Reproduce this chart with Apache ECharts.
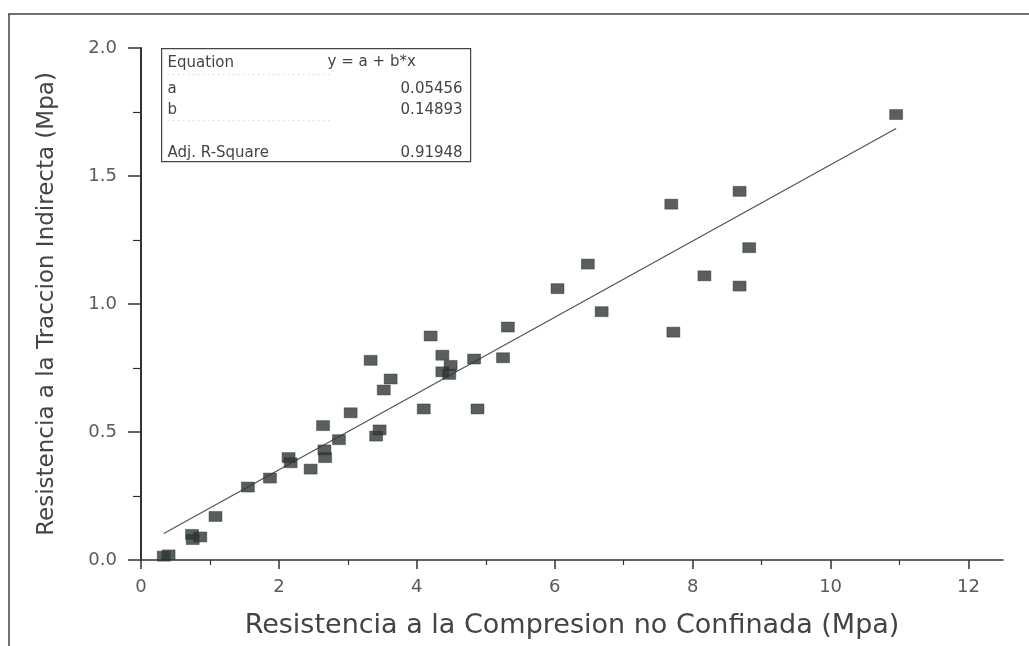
<!DOCTYPE html>
<html><head><meta charset="utf-8">
<script src="https://cdn.jsdelivr.net/npm/echarts@6/dist/echarts.min.js"></script>
<style>html,body{margin:0;padding:0;background:#fff}#c{width:1029px;height:646px}</style>
</head><body><div id="c"></div>
<script>
const xValues = [0.33, 0.40, 0.74, 0.75, 0.86, 1.08, 1.55, 1.87, 2.14, 2.17, 2.46, 2.64, 2.66, 2.67, 2.87, 3.04, 3.33, 3.41, 3.46, 3.52, 3.62, 4.10, 4.20, 4.37, 4.49, 4.37, 4.47, 4.83, 4.88, 5.25, 5.32, 6.04, 6.48, 6.68, 7.69, 7.72, 8.17, 8.68, 8.68, 8.82, 10.95];
const yValues = [0.015, 0.02, 0.10, 0.08, 0.09, 0.17, 0.285, 0.32, 0.40, 0.38, 0.355, 0.525, 0.43, 0.40, 0.47, 0.575, 0.78, 0.484, 0.508, 0.664, 0.707, 0.59, 0.875, 0.80, 0.76, 0.735, 0.725, 0.785, 0.59, 0.79, 0.91, 1.06, 1.156, 0.97, 1.39, 0.89, 1.11, 1.44, 1.07, 1.22, 1.74];
// Fit table
const tableLabels = ['a', 'b', 'Adj. R-Square'];
const tableValues = ['0.05456', '0.14893', '0.91948'];
const fitA = 0.05456, fitB = 0.14893;
const fitXRange = [0.33, 10.95];
// Ticks
const xMajorTicks = [0, 2, 4, 6, 8, 10, 12];
const xMinorTicks = [1, 3, 5, 7, 9, 11];
// Axis text
const xTitle = 'Resistencia a la Compresion no Confinada (Mpa)';
const yTitle = 'Resistencia a la Traccion Indirecta (Mpa)';

const scatterData = xValues.map((x, i) => [x, yValues[i]]);
const fitData = fitXRange.map(x => [x, fitA + fitB * x]);

const chart = echarts.init(document.getElementById('c'), null, {renderer: 'canvas'});
const axisColor = '#333';
const labelColor = '#5a5a5a';
const fontFam = 'DejaVu Sans';
const tf = '15px "DejaVu Sans"';

chart.setOption({
  backgroundColor: '#fff',
  animation: false,
  grid: {left: 141, right: 26, top: 48, bottom: 86, containLabel: false},
  xAxis: [{
    type: 'value', min: 0, max: 12.5, position: 'bottom',
    name: xTitle, nameLocation: 'middle', nameGap: 52,
    nameTextStyle: {fontFamily: fontFam, fontSize: 27, color: '#444'},
    axisLine: {show: true, lineStyle: {color: axisColor, width: 1.5}},
    axisTick: {show: true, inside: false, length: 9, customValues: xMajorTicks, lineStyle: {color: axisColor, width: 1.5}},
    minorTick: {show: false},
    axisLabel: {margin: 18, fontFamily: fontFam, fontSize: 18, color: labelColor, customValues: xMajorTicks,
      formatter: v => String(v)},
    splitLine: {show: false}
  }, {
    type: 'value', min: 0, max: 12.5, position: 'bottom', offset: 0,
    axisLine: {show: false},
    axisTick: {show: true, inside: false, length: 5, customValues: xMinorTicks, lineStyle: {color: axisColor, width: 1.2}},
    axisLabel: {show: false},
    splitLine: {show: false}
  }],
  yAxis: {
    type: 'value', min: 0, max: 2, interval: 0.5,
    name: yTitle, nameLocation: 'middle', nameGap: 82,
    nameTextStyle: {fontFamily: fontFam, fontSize: 23, color: '#444'},
    axisLine: {show: true, onZero: false, lineStyle: {color: axisColor, width: 2}},
    axisTick: {show: true, inside: false, length: 13, lineStyle: {color: axisColor, width: 1.5}},
    minorTick: {show: true, splitNumber: 2, length: 8, lineStyle: {color: axisColor, width: 1.2}},
    axisLabel: {margin: 24, fontFamily: fontFam, fontSize: 18, color: labelColor,
      formatter: v => v.toFixed(1)},
    splitLine: {show: false}
  },
  series: [
    {
      type: 'line', data: fitData, showSymbol: false, symbol: 'none',
      lineStyle: {color: '#555', width: 1.3}, z: 2
    },
    {
      type: 'scatter', data: scatterData, symbol: 'rect', symbolSize: [13, 10],
      itemStyle: {color: '#2f3636', borderColor: '#262b2b', borderWidth: 0.5}, z: 3
    }
  ],
  graphic: [
    // scanned page frame
    {type: 'line', shape: {x1: 8, y1: 14, x2: 1029, y2: 14}, style: {stroke: '#444', lineWidth: 1.5}},
    {type: 'line', shape: {x1: 9, y1: 14, x2: 9, y2: 646}, style: {stroke: '#444', lineWidth: 1.5}},
    // fit table box
    {type: 'group', left: 161, top: 48, children: [
      {type: 'rect', shape: {x: 0, y: 0, width: 309, height: 113}, style: {fill: '#fff', stroke: '#444', lineWidth: 1.2}},
      {type: 'line', shape: {x1: 6, y1: 26, x2: 170, y2: 26}, style: {stroke: '#ddd', lineWidth: 1, lineDash: [2, 3]}},
      {type: 'line', shape: {x1: 6, y1: 72, x2: 170, y2: 72}, style: {stroke: '#ddd', lineWidth: 1, lineDash: [2, 3]}},
      {type: 'text', x: 6, y: 15, style: {text: 'Equation', font: tf, fill: '#444', verticalAlign: 'middle'}},
      {type: 'text', x: 166, y: 14, style: {text: 'y = a + b*x', font: tf, fill: '#444', verticalAlign: 'middle'}},
      {type: 'text', x: 6, y: 41, style: {text: tableLabels[0], font: tf, fill: '#444', verticalAlign: 'middle'}},
      {type: 'text', x: 301, y: 41, style: {text: tableValues[0], font: tf, fill: '#444', align: 'right', verticalAlign: 'middle'}},
      {type: 'text', x: 6, y: 62, style: {text: tableLabels[1], font: tf, fill: '#444', verticalAlign: 'middle'}},
      {type: 'text', x: 301, y: 62, style: {text: tableValues[1], font: tf, fill: '#444', align: 'right', verticalAlign: 'middle'}},
      {type: 'text', x: 6, y: 105, style: {text: tableLabels[2], font: tf, fill: '#444', verticalAlign: 'middle'}},
      {type: 'text', x: 301, y: 105, style: {text: tableValues[2], font: tf, fill: '#444', align: 'right', verticalAlign: 'middle'}}
    ]}
  ]
});
</script>
</body></html>
